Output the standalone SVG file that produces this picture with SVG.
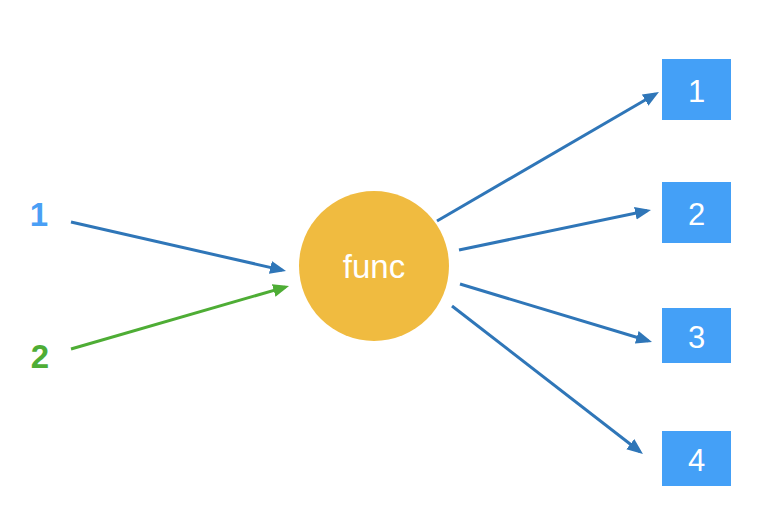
<svg xmlns="http://www.w3.org/2000/svg" width="770" height="532" viewBox="0 0 770 532">
<style>
.box{fill:#44a0f7}
.bt{fill:#ffffff;font-family:"Liberation Sans",Arial,sans-serif;font-size:31px;text-anchor:middle}
.ln{fill:none;stroke-width:3}
.blue{stroke:#2f76b8}
.green{stroke:#4ead35}
.lbl{font-family:"Liberation Sans",Arial,sans-serif;font-size:33px;font-weight:bold;text-anchor:middle}
</style>
<defs>
<marker id="ab" markerUnits="userSpaceOnUse" markerWidth="17" markerHeight="14" refX="12" refY="6.5" orient="auto"><path d="M0,0 L16,6.5 L0,13 z" fill="#2f76b8"/></marker>
<marker id="ag" markerUnits="userSpaceOnUse" markerWidth="17" markerHeight="14" refX="12" refY="6.5" orient="auto"><path d="M0,0 L16,6.5 L0,13 z" fill="#4ead35"/></marker>
</defs>
<rect width="770" height="532" fill="#ffffff"/>
<g id="in1"><text class="lbl" x="39" y="226" fill="#4a9ff5">1</text></g>
<g id="in2"><text class="lbl" x="40" y="368" fill="#4ead35">2</text></g>
<g id="func"><circle cx="374" cy="266" r="75" fill="#f0bb40"/><text x="374" y="278" fill="#ffffff" font-family="'Liberation Sans',Arial,sans-serif" font-size="33" text-anchor="middle">func</text></g>
<g id="out1"><rect class="box" x="662" y="59" width="69" height="61"/><text class="bt" x="696.5" y="102">1</text></g>
<g id="out2"><rect class="box" x="662" y="182" width="69" height="61"/><text class="bt" x="696.5" y="225">2</text></g>
<g id="out3"><rect class="box" x="662" y="308" width="69" height="55"/><text class="bt" x="696.5" y="348">3</text></g>
<g id="out4"><rect class="box" x="662" y="431" width="69" height="55"/><text class="bt" x="696.5" y="471">4</text></g>
<g id="connectors">
<line class="ln blue" x1="71" y1="222" x2="282.1" y2="270.1" marker-end="url(#ab)"/>
<line class="ln green" x1="71" y1="349" x2="285.2" y2="287.1" marker-end="url(#ag)"/>
<line class="ln blue" x1="437" y1="221" x2="655.5" y2="94" marker-end="url(#ab)"/>
<line class="ln blue" x1="459" y1="250" x2="647.1" y2="210.8" marker-end="url(#ab)"/>
<line class="ln blue" x1="460" y1="284" x2="648.2" y2="340.8" marker-end="url(#ab)"/>
<line class="ln blue" x1="452" y1="306" x2="639.8" y2="451.5" marker-end="url(#ab)"/>
</g>
</svg>
